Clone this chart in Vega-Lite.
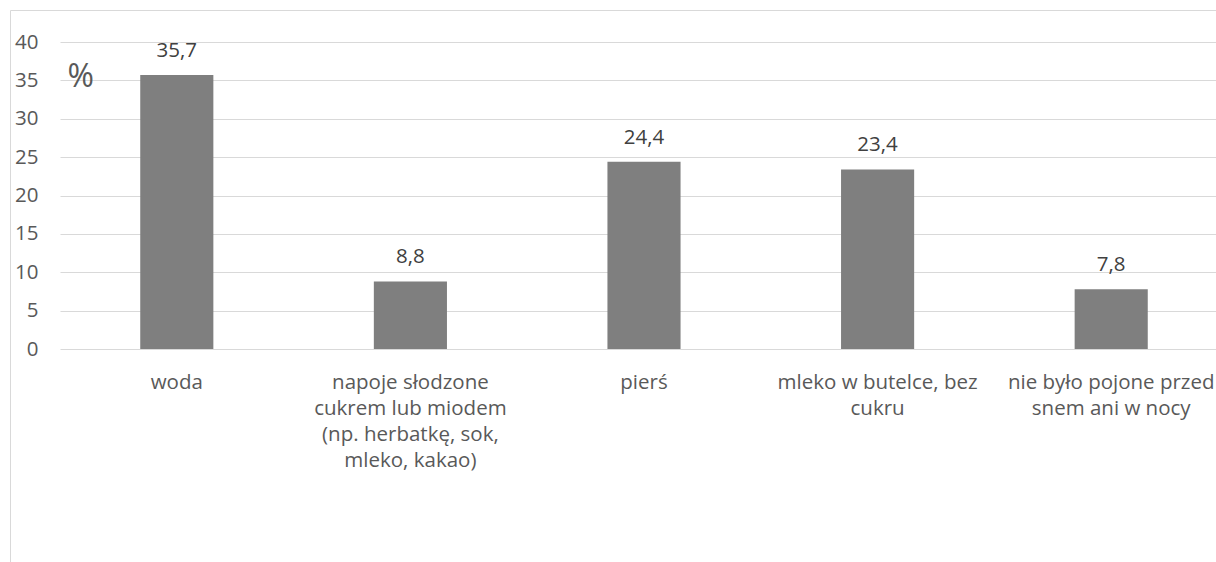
{
  "$schema": "https://vega.github.io/schema/vega-lite/v6.json",
  "width": 1206,
  "height": 552,
  "autosize": {"type": "none"},
  "padding": {"left": 10, "top": 10, "right": 0, "bottom": 0},
  "background": "white",
  "data": {
    "values": [
      {"kategoria": "woda", "procent": 35.7},
      {"kategoria": "napoje słodzone\ncukrem lub miodem\n(np. herbatkę, sok,\nmleko, kakao)", "procent": 8.8},
      {"kategoria": "pierś", "procent": 24.4},
      {"kategoria": "mleko w butelce, bez\ncukru", "procent": 23.4},
      {"kategoria": "nie było pojone przed\nsnem ani w nocy", "procent": 7.8}
    ]
  },
  "encoding": {
    "x": {
      "field": "kategoria",
      "type": "nominal",
      "sort": null,
      "scale": {"range": [50, 1218], "paddingInner": 0.687, "paddingOuter": 0.3435},
      "axis": {
        "title": null,
        "orient": "bottom",
        "offset": -213,
        "domain": false,
        "ticks": false,
        "grid": false,
        "labelAngle": 0,
        "labelPadding": 23,
        "labelFont": "Open Sans",
        "labelFontSize": 20.5,
        "labelColor": "#595959",
        "labelLineHeight": 26,
        "labelLimit": 0,
        "labelBaseline": "top",
        "labelAlign": "center",
        "labelExpr": "split(datum.label, '\\n')"
      }
    },
    "y": {
      "field": "procent",
      "type": "quantitative",
      "scale": {"domain": [0, 40], "range": [339, 32], "nice": false},
      "axis": {
        "title": "%",
        "titleAngle": 0,
        "titleX": 29,
        "titleY": 76,
        "titleAlign": "left",
        "titleBaseline": "alphabetic",
        "titleFont": "Open Sans",
        "titleFontSize": 32,
        "titleFontWeight": "normal",
        "titleColor": "#595959",
        "values": [0, 5, 10, 15, 20, 25, 30, 35, 40],
        "offset": -28,
        "domain": false,
        "ticks": false,
        "labelPadding": 0,
        "labelFont": "Open Sans",
        "labelFontSize": 20.5,
        "labelColor": "#595959",
        "grid": true,
        "gridColor": "#d9d9d9",
        "gridWidth": 1
      }
    }
  },
  "layer": [
    {"mark": {"type": "bar", "color": "#7f7f7f"}},
    {
      "mark": {"type": "text", "dy": -18, "baseline": "alphabetic", "font": "Open Sans", "fontSize": 20.5, "color": "#404040"},
      "encoding": {"text": {"field": "procent", "type": "quantitative", "format": ".1f"}}
    }
  ],
  "config": {
    "view": {"stroke": "#d9d9d9"},
    "locale": {"number": {"decimal": ",", "thousands": " ", "grouping": [3], "currency": ["", " zł"]}}
  }
}
